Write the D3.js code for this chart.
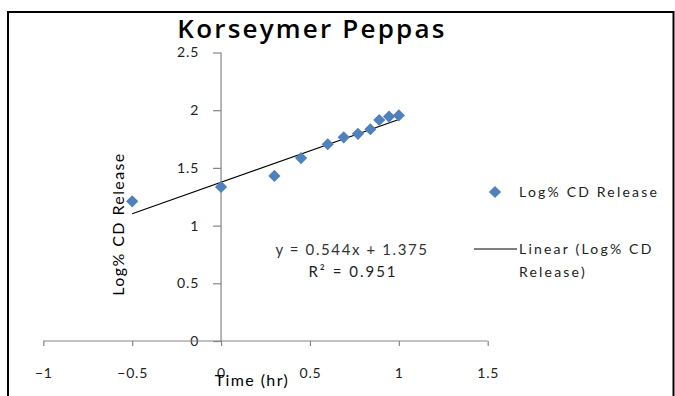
<!DOCTYPE html>
<html>
<head>
<meta charset="utf-8">
<script src="https://cdn.jsdelivr.net/npm/d3@7"></script>
<style>
  body { margin: 0; background: #fff; }
  svg { display: block; font-family: Lato, "Open Sans", sans-serif; }
</style>
</head>
<body>
<svg id="chart" width="675" height="396"></svg>
<script>
// data
var timeLog = [-0.5, 0, 0.3, 0.45, 0.6, 0.69, 0.77, 0.84, 0.89, 0.945, 1];
var releaseLog = [1.21, 1.335, 1.43, 1.585, 1.705, 1.765, 1.795, 1.835, 1.915, 1.945, 1.955];
var xTicks = [-1, -0.5, 0, 0.5, 1, 1.5];
var yTicks = [0, 0.5, 1, 1.5, 2, 2.5];
var slope = 0.544, intercept = 1.375, rSquared = 0.951;

var svg = d3.select("#chart");

var x = d3.scaleLinear().domain([-1, 1.5]).range([43.3, 487.7]);
var y = d3.scaleLinear().domain([0, 2.5]).range([341, 52.5]);

// outer frame
svg.append("rect")
  .attr("x", 8).attr("y", 12)
  .attr("width", 665.5).attr("height", 400)
  .attr("fill", "none").attr("stroke", "#000").attr("stroke-width", 2);

// title
svg.append("text")
  .attr("x", 312).attr("y", 38)
  .attr("text-anchor", "middle")
  .style("font-family", "'Open Sans', sans-serif")
  .style("font-size", "26px").style("font-weight", "600")
  .style("letter-spacing", "2.2px")
  .text("Korseymer Peppas");

// y axis sits at x = 0
var yAxis = d3.axisLeft(y).tickValues(yTicks).tickSize(8).tickPadding(14)
  .tickFormat(d3.format("~g"));
var gy = svg.append("g").attr("transform", "translate(" + x(0) + ",0)").call(yAxis);

// x axis sits at y = 0
var xAxis = d3.axisBottom(x).tickValues(xTicks).tickSize(5).tickPadding(22)
  .tickFormat(d3.format("~g"));
var gx = svg.append("g").attr("transform", "translate(0," + y(0) + ")").call(xAxis);

[gx, gy].forEach(function (g) {
  g.select(".domain").attr("stroke", "#868686").attr("stroke-width", 1.2);
  g.selectAll(".tick line").attr("stroke", "#868686").attr("stroke-width", 1.2);
  g.selectAll(".tick text").attr("fill", "#222").style("font-size", "14px")
    .style("letter-spacing", "0.8px")
    .style("font-family", "Lato, sans-serif");
});
gy.select(".domain").attr("d", "M0," + y(2.5) + "V" + y(0));
gx.select(".domain").attr("d", "M" + x(-1) + ",0H" + x(1.5));

// trend line over the data range
var xr = d3.extent(timeLog);
svg.append("line")
  .attr("x1", x(xr[0])).attr("y1", y(slope * xr[0] + intercept))
  .attr("x2", x(xr[1])).attr("y2", y(slope * xr[1] + intercept))
  .attr("stroke", "#000").attr("stroke-width", 1.2);

// points
var diamond = d3.symbol().type(d3.symbolDiamond2).size(95);
svg.append("g").selectAll("path")
  .data(timeLog)
  .join("path")
  .attr("d", diamond)
  .attr("transform", function (d, i) { return "translate(" + x(d) + "," + y(releaseLog[i]) + ")"; })
  .attr("fill", "#4f81bd");

// equation
svg.append("text")
  .attr("x", 352).attr("y", 255).attr("text-anchor", "middle")
  .attr("fill", "#333").style("font-size", "15px").style("letter-spacing", "1.6px")
  .text("y = " + slope + "x + " + intercept);
svg.append("text")
  .attr("x", 353).attr("y", 277).attr("text-anchor", "middle")
  .attr("fill", "#222").style("font-size", "15px").style("letter-spacing", "2px")
  .text("R\u00b2 = " + rSquared);

// axis titles
svg.append("text")
  .attr("transform", "translate(124,224) rotate(-90)")
  .attr("text-anchor", "middle")
  .style("font-size", "16px").style("letter-spacing", "1.4px")
  .text("Log% CD Release");
svg.append("text")
  .attr("x", 252).attr("y", 386).attr("text-anchor", "middle")
  .style("font-size", "16px").style("letter-spacing", "1.4px")
  .text("Time (hr)");

// legend
var lg = svg.append("g").style("font-size", "14px").attr("fill", "#222")
  .style("letter-spacing", "2.2px");
lg.append("path").attr("d", diamond).attr("transform", "translate(495,192)").attr("fill", "#4f81bd");
lg.append("text").attr("x", 519).attr("y", 197).text("Log% CD Release");
lg.append("line").attr("x1", 474).attr("x2", 517).attr("y1", 249).attr("y2", 249)
  .attr("stroke", "#000").attr("stroke-width", 1.2);
lg.append("text").attr("x", 519).attr("y", 254).text("Linear (Log% CD");
lg.append("text").attr("x", 519).attr("y", 277).text("Release)");
</script>
</body>
</html>
